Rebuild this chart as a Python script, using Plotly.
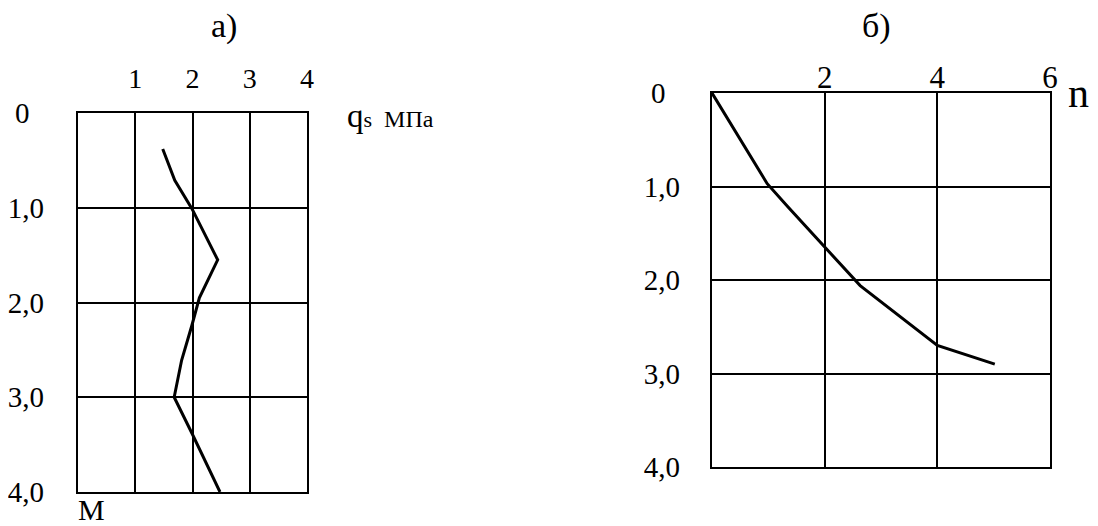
import plotly.graph_objects as go

# ---- data ----
# chart а): q_s (MPa) vs depth (m)
qs_values = [1.48, 1.69, 1.99, 2.44, 2.12, 1.99, 1.81, 1.68, 1.99, 2.48]
qs_depth = [0.38, 0.71, 1.01, 1.55, 1.95, 2.24, 2.61, 3.0, 3.38, 4.0]
# chart б): n vs depth (m)
n_values = [0.0, 0.98, 1.35, 2.0, 2.63, 4.0, 5.02]
n_depth = [0.0, 0.97, 1.22, 1.65, 2.06, 2.70, 2.90]

depth_ticks = [0, 1, 2, 3, 4]
depth_labels = ["0\u2007", "1,0", "2,0", "3,0", "4,0"]
qs_ticks = [1, 2, 3, 4]
qs_labels = ["1", "2", "3", "4"]
n_ticks = [2, 4, 6]
n_labels = ["2", "4", "6"]

OFF = 8  # page body margin
W, H = 1098 - OFF, 526 - OFF
FONT = "Liberation Serif"

fig = go.Figure()
fig.add_trace(go.Scatter(x=qs_values, y=qs_depth, mode="lines",
                         line=dict(color="black", width=3), xaxis="x", yaxis="y",
                         showlegend=False, hoverinfo="skip"))
fig.add_trace(go.Scatter(x=n_values, y=n_depth, mode="lines",
                         line=dict(color="black", width=3), xaxis="x2", yaxis="y2",
                         showlegend=False, hoverinfo="skip"))

def px_x(p):
    return (p - OFF) / W

def px_y(p):
    return 1 - (p - OFF) / H

common_axis = dict(showgrid=True, gridcolor="black", gridwidth=2.2, zeroline=False,
                   showline=True, linecolor="black", linewidth=2.2, mirror=True,
                   ticks="", tickmode="array", fixedrange=True, automargin=False)

fig.update_layout(
    template="none",
    width=W, height=H,
    margin=dict(l=0, r=0, t=0, b=0, pad=0),
    paper_bgcolor="white", plot_bgcolor="white",
    font=dict(family=FONT, color="black"),
    xaxis=dict(domain=[px_x(78), px_x(307)], range=[0, 4], side="top", anchor="y",
               tickvals=qs_ticks, ticktext=qs_labels,
               tickfont=dict(size=28, family=FONT), ticklabelstandoff=12, **common_axis),
    yaxis=dict(domain=[px_y(492), px_y(113)], range=[4, 0], anchor="x",
               tickvals=depth_ticks, ticktext=depth_labels,
               tickfont=dict(size=29, family=FONT), ticklabelstandoff=26, **common_axis),
    xaxis2=dict(domain=[px_x(712), px_x(1050)], range=[0, 6], side="top", anchor="y2",
                tickvals=n_ticks, ticktext=n_labels,
                tickfont=dict(size=31, family=FONT), ticklabelstandoff=-9, **common_axis),
    yaxis2=dict(domain=[px_y(467), px_y(93)], range=[4, 0], anchor="x2",
                tickvals=depth_ticks, ticktext=depth_labels,
                tickfont=dict(size=29, family=FONT), ticklabelstandoff=24, **common_axis),
)

annotations = [
    dict(text="а)", x=px_x(224), y=px_y(26), xref="paper", yref="paper",
         xanchor="center", yanchor="middle",
         showarrow=False, font=dict(size=34, family=FONT)),
    dict(text="б)", x=px_x(876), y=px_y(26), xref="paper", yref="paper",
         xanchor="center", yanchor="middle",
         showarrow=False, font=dict(size=34, family=FONT)),
    dict(text="<span style='font-size:33px'>q</span><span style='font-size:22px'>s</span>  МПа",
         x=px_x(345), y=px_y(116), xref="paper", yref="paper",
         xanchor="left", yanchor="middle",
         showarrow=False, font=dict(size=24, family=FONT)),
    dict(text="n", x=px_x(1078), y=px_y(93), xref="paper", yref="paper",
         xanchor="center", yanchor="middle",
         showarrow=False, font=dict(size=42, family=FONT)),
    dict(text="М", x=px_x(76), y=px_y(491), xref="paper", yref="paper",
         xanchor="left", yanchor="top",
         showarrow=False, font=dict(size=30, family=FONT)),
]
fig.update_layout(annotations=annotations)

fig.write_html("out.html")
